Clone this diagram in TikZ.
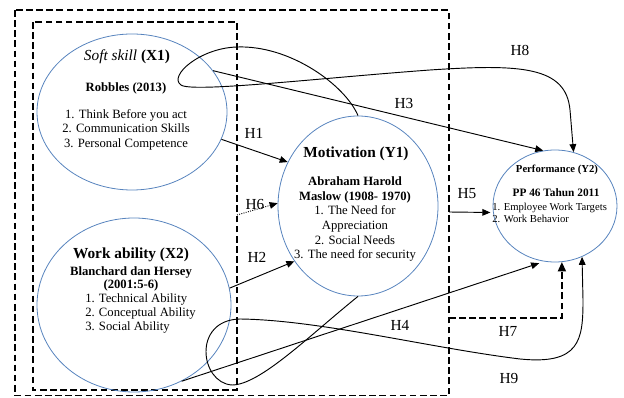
\documentclass[tikz,border=0pt]{standalone}
\usepackage{fontspec}
\setmainfont{Liberation Serif}
\usepackage{xcolor}
\definecolor{ellblue}{RGB}{88,132,190}
\usepackage{tikz}
\usetikzlibrary{positioning,arrows.meta,shapes.geometric}

\begin{document}
\begin{tikzpicture}[x=0.75pt,y=-0.75pt,
  var/.style={draw=ellblue,line width=.6pt,ellipse,inner sep=0pt},
  box/.style={line width=1.3pt,dash pattern=on 5pt off 2.6pt},
  link/.style={-{Triangle[length=6pt,width=5pt]},line width=.7pt},
  hyp/.style={font=\fontsize{11.5}{13}\selectfont,inner sep=0pt},
  head/.style={font=\fontsize{11.5}{13}\selectfont\bfseries,inner sep=0pt},
  auth/.style={font=\fontsize{9.5}{10}\selectfont\bfseries,inner sep=0pt},
  item/.style={font=\fontsize{9.5}{10.8}\selectfont,inner sep=0pt}]
\useasboundingbox (0,0) rectangle (624,398);

%%% the two dashed frames
\draw[box] (15,10) rectangle (449,395.5);
\draw[box] (33,22) rectangle (237,390);

\coordinate (h6s) at (237,215);
\coordinate (h5s) at (449,212);
\coordinate (h7s) at (449,318);

%%% variables
\node[var,minimum width=142.5pt,minimum height=117pt] (x1) at (132,112) {};
\node[var,minimum width=145.5pt,minimum height=130.5pt] (x2) at (134,305) {};
\node[var,minimum width=120pt,minimum height=135pt] (y1) at (358,206) {};
\node[var,minimum width=93pt,minimum height=84pt] (y2) at (555,206) {};

\node[head] (x1head) at (127,57) {\textit{\mdseries Soft skill} (X1)};
\node[auth] (x1auth) at (126,88) {Robbles (2013)};
\node[item,align=center] (x1list) at (126,129.5) {1. Think Before you act\\2. Communication Skills\\3. Personal Competence};

\node[head] (x2head) at (131,255) {Work ability (X2)};
\node[auth,align=center,font=\fontsize{9.5}{9.8}\selectfont\bfseries] (x2auth) at (131,278.5) {Blanchard dan Hersey\\(2001:5-6)};
\node[item,align=left,anchor=west,font=\fontsize{9.5}{10.5}\selectfont] (x2list) at (85,313) {1. Technical Ability\\2. Conceptual Ability\\3. Social Ability};

\node[head] (y1head) at (356,154) {Motivation (Y1)};
\node[item,align=center,font=\fontsize{9.5}{11}\selectfont] (y1list) at (355,219) {\textbf{Abraham Harold}\\\textbf{Maslow (1908- 1970)}\\1. The Need for\\Appreciation\\2. Social Needs\\3. The need for security};

\node[auth,font=\fontsize{8}{9}\selectfont\bfseries] (y2head) at (557,170) {Performance (Y2)};
\node[auth,font=\fontsize{8.5}{9}\selectfont\bfseries] (y2auth) at (556,193) {PP 46 Tahun 2011};
\node[item,align=left,anchor=west,font=\fontsize{8}{9}\selectfont] (y2list) at (492,213) {1. Employee Work Targets\\2. Work Behavior};

%%% hypotheses
\draw[link] (x1.-17) -- (y1.148);
\draw[link,densely dotted] (h6s) -- (y1.178);
\draw[link] (x2.10) -- (y1.-139);
\draw[link] (x1.27) -- (y2.102);
\draw[link,shorten >=4pt] (x2.-58) -- (y2.-101);
\draw[link,shorten >=2pt] (h5s) -- (y2.186);
\draw[box,-{Triangle[length=7pt,width=6pt]}] (h7s) -| (y2.-83);

\draw[link] (y1.north) .. controls (345,85) and (290,45) .. (237,47)
  .. controls (200,48) and (168,76) .. (181,85)
  .. controls (192,93) and (320,78) .. (430,70)
  .. controls (520,64) and (566,66) .. (570,110) -- (y2.71);

\draw[link] (y1.south) .. controls (310,335) and (260,385) .. (232,385)
  .. controls (200,383) and (192,320) .. (240,319)
  .. controls (320,320) and (430,348) .. (520,359)
  .. controls (580,365) and (583,340) .. (583,300) -- (y2.-62);

\node[hyp] (lh1) at (254,133) {H1};
\node[hyp] (lh6) at (255,205) {H6};
\node[hyp] (lh2) at (257,257) {H2};
\node[hyp] (lh3) at (404,104) {H3};
\node[hyp] (lh8) at (520,50) {H8};
\node[hyp] (lh5) at (467,194) {H5};
\node[hyp] (lh4) at (400,325) {H4};
\node[hyp] (lh7) at (508,331) {H7};
\node[hyp] (lh9) at (509,378) {H9};

\end{tikzpicture}
\end{document}
